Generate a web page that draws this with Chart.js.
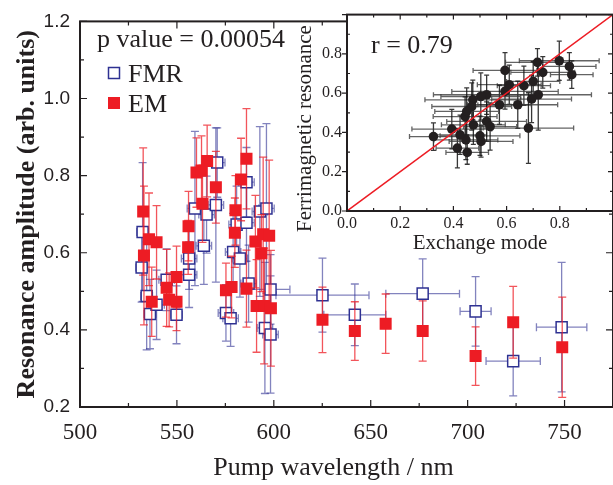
<!DOCTYPE html>
<html lang="en">
<head>
  <meta charset="UTF-8" />
  <title>Resonance amplitude vs pump wavelength</title>
  <script src="https://cdn.jsdelivr.net/npm/chart.js"></script>
  <style>
    body { margin: 0; background: #fff; }
    #wrap { position: relative; width: 613px; height: 485px; overflow: hidden; }
    #mainChart { position: absolute; left: 0; top: 0; }
    #insetChart { position: absolute; left: 280px; top: 0; }
  </style>
</head>
<body>
<div id="wrap">
  <canvas id="mainChart" width="613" height="485"></canvas>
  <canvas id="insetChart" width="333" height="260"></canvas>
</div>

<script>
  // main plot: FMR (open squares) and EM (filled squares)
  const fmrX    = [531.8, 532.3, 534.4, 536.1, 539.5, 544.7, 549.8, 556.3, 556.3, 559.3, 563.9, 565.3, 570.1, 570.8,
                   575.3, 577.7, 579.0, 580.8, 582.5, 585.9, 585.9, 587.0, 592.8, 596.2, 595.4, 598.3, 598.3,
                   625.1, 641.8, 676.8, 704.1, 723.5, 748.5];
  const fmrY    = [0.562, 0.654, 0.488, 0.441, 0.465, 0.530, 0.439, 0.543, 0.585, 0.715, 0.618, 0.699, 0.724, 0.834,
                   0.444, 0.430, 0.602, 0.673, 0.585, 0.783, 0.678, 0.520, 0.707, 0.715, 0.405, 0.388, 0.505,
                   0.490, 0.439, 0.494, 0.448, 0.319, 0.407];
  const fmrXErr = [3, 3, 3, 3, 4, 4, 3, 4, 4, 4, 4, 4, 4, 4,
                   4, 4, 4, 4, 4, 4, 4, 4, 4, 4, 4, 4, 10,
                   24, 16, 19, 8, 14, 13];
  const fmrYErr = [0.09, 0.18, 0.14, 0.09, 0.09, 0.08, 0.075, 0.085, 0.08, 0.2, 0.1, 0.1, 0.2, 0.09,
                   0.073, 0.073, 0.1, 0.1, 0.1, 0.09, 0.1, 0.1, 0.22, 0.22, 0.17, 0.152, 0.09,
                   0.096, 0.08, 0.09, 0.09, 0.09, 0.168];

  const emX    = [532.6, 533.0, 535.6, 537.0, 539.5, 544.7, 546.0, 549.8, 549.8, 555.8, 556.0, 560.1, 562.7, 563.2,
                  565.6, 570.1, 575.3, 578.2, 579.9, 580.2, 583.1, 585.9, 585.9, 590.5, 591.1, 593.6, 594.5, 595.0,
                  597.6, 598.5, 625.1, 641.8, 657.7, 676.8, 704.1, 723.5, 748.8];
  const emY    = [0.707, 0.593, 0.635, 0.473, 0.627, 0.509, 0.478, 0.537, 0.473, 0.614, 0.669, 0.808, 0.813, 0.727,
                  0.838, 0.770, 0.503, 0.511, 0.652, 0.710, 0.790, 0.844, 0.507, 0.629, 0.462, 0.599, 0.648, 0.462,
                  0.644, 0.456, 0.426, 0.397, 0.416, 0.397, 0.332, 0.420, 0.355];
  const emYErr = [0.165, 0.18, 0.12, 0.09, 0.095, 0.1, 0.07, 0.08, 0.075, 0.07, 0.09, 0.09, 0.09, 0.1,
                  0.093, 0.093, 0.07, 0.08, 0.09, 0.09, 0.107, 0.13, 0.1, 0.12, 0.12, 0.1, 0.2, 0.15,
                  0.196, 0.15, 0.085, 0.076, 0.077, 0.078, 0.076, 0.093, 0.13];

  // inset: ferrimagnetic resonance vs exchange mode
  const insetX    = [0.594, 0.716, 0.798, 0.836, 0.845, 0.736, 0.700, 0.665, 0.610, 0.594, 0.719, 0.694, 0.642, 0.573,
                     0.525, 0.503, 0.473, 0.469, 0.444, 0.325, 0.394, 0.415, 0.452, 0.447, 0.425, 0.500, 0.504, 0.475,
                     0.525, 0.538, 0.682, 0.450];
  const insetY    = [0.716, 0.757, 0.765, 0.736, 0.694, 0.706, 0.660, 0.638, 0.643, 0.609, 0.592, 0.570, 0.541, 0.541,
                     0.592, 0.583, 0.566, 0.532, 0.481, 0.379, 0.417, 0.320, 0.298, 0.362, 0.388, 0.383, 0.354, 0.439,
                     0.456, 0.430, 0.422, 0.507];
  const insetXErr = [0.12, 0.12, 0.15, 0.10, 0.08, 0.12, 0.10, 0.10, 0.12, 0.20, 0.20, 0.15, 0.15, 0.12,
                     0.20, 0.15, 0.18, 0.15, 0.12, 0.09, 0.15, 0.08, 0.08, 0.12, 0.10, 0.15, 0.12, 0.12,
                     0.15, 0.10, 0.17, 0.12];
  const insetYErr = [0.09, 0.07, 0.10, 0.07, 0.07, 0.08, 0.10, 0.10, 0.10, 0.09, 0.18, 0.12, 0.12, 0.10,
                     0.10, 0.12, 0.10, 0.12, 0.10, 0.07, 0.10, 0.10, 0.06, 0.10, 0.10, 0.10, 0.08, 0.10,
                     0.10, 0.12, 0.18, 0.12];
  const fitLine = [{x: 0, y: 0}, {x: 1, y: 1}];

  const xTickValues = [500, 550, 600, 650, 700, 750];
  const yTickValues = [0.2, 0.4, 0.6, 0.8, 1.0, 1.2];
  const insetTickValues = [0, 0.2, 0.4, 0.6, 0.8];

  const INK = '#231f20';
  const RED = '#ed1c24';
  const BLUE = '#2e3192';

  const toPoints = (xs, ys) => xs.map((x, i) => ({x: x, y: ys[i]}));

  // vertical / horizontal error bars drawn just before each dataset's markers
  const errorBars = {
    id: 'errorBars',
    beforeDatasetDraw(chart, args) {
      const ds = chart.data.datasets[args.index];
      if (!ds.errY && !ds.errX) return;
      const ctx = chart.ctx;
      const xs = chart.scales[args.meta.xAxisID];
      const ys = chart.scales[args.meta.yAxisID];
      const cap = ds.capSize;
      ctx.save();
      ctx.lineWidth = 1.3;
      args.meta.data.forEach((pt, i) => {
        const v = ds.data[i];
        if (ds.errX) {
          const l = xs.getPixelForValue(v.x - ds.errX[i]);
          const r = xs.getPixelForValue(v.x + ds.errX[i]);
          ctx.strokeStyle = ds.errXColor || ds.errColor;
          ctx.beginPath();
          ctx.moveTo(l, pt.y); ctx.lineTo(r, pt.y);
          ctx.moveTo(l, pt.y - cap); ctx.lineTo(l, pt.y + cap);
          ctx.moveTo(r, pt.y - cap); ctx.lineTo(r, pt.y + cap);
          ctx.stroke();
        }
        if (ds.errY) {
          const t = ys.getPixelForValue(v.y + ds.errY[i]);
          const b = ys.getPixelForValue(v.y - ds.errY[i]);
          ctx.strokeStyle = ds.errColor;
          ctx.beginPath();
          ctx.moveTo(pt.x, t); ctx.lineTo(pt.x, b);
          ctx.moveTo(pt.x - cap, t); ctx.lineTo(pt.x + cap, t);
          ctx.moveTo(pt.x - cap, b); ctx.lineTo(pt.x + cap, b);
          ctx.stroke();
        }
      });
      ctx.restore();
    }
  };

  // box frame with inward ticks on all four sides
  const frame = {
    id: 'frame',
    beforeDraw(chart, args, o) {
      if (!o.fill) return;
      const a = chart.chartArea;
      chart.ctx.save();
      chart.ctx.fillStyle = o.fill;
      chart.ctx.fillRect(a.left, a.top, a.right - a.left, a.bottom - a.top);
      chart.ctx.restore();
    },
    afterDraw(chart, args, o) {
      const {ctx, chartArea: a, scales: {x, y}} = chart;
      ctx.save();
      ctx.strokeStyle = INK;
      ctx.lineWidth = 1.2;
      ctx.beginPath();
      for (let k = 0; ; k++) {
        const v = x.min + k * o.xMinor;
        if (v > x.max + 1e-9) break;
        const major = Math.abs(v / o.xMajor - Math.round(v / o.xMajor)) < 1e-6;
        const len = major ? o.len : o.minorLen;
        const px = x.getPixelForValue(v);
        ctx.moveTo(px, a.bottom); ctx.lineTo(px, a.bottom - len);
        ctx.moveTo(px, a.top); ctx.lineTo(px, a.top + len);
      }
      for (let k = 0; ; k++) {
        const v = y.min + k * o.yMinor;
        if (v > y.max + 1e-9) break;
        const major = Math.abs(v / o.yMajor - Math.round(v / o.yMajor)) < 1e-6;
        const len = major ? o.len : o.minorLen;
        const py = y.getPixelForValue(v);
        if (major && o.leftOut) {
          ctx.moveTo(a.left, py); ctx.lineTo(a.left - len, py);
        } else {
          ctx.moveTo(a.left, py); ctx.lineTo(a.left + len, py);
        }
        ctx.moveTo(a.right, py); ctx.lineTo(a.right - len, py);
      }
      ctx.stroke();
      ctx.lineWidth = 2;
      ctx.strokeRect(a.left, a.top, a.right - a.left, a.bottom - a.top);
      ctx.restore();
    }
  };

  // in-plot text: p value and legend
  const mainNotes = {
    id: 'mainNotes',
    afterDraw(chart) {
      const ctx = chart.ctx;
      ctx.save();
      ctx.fillStyle = INK;
      ctx.font = '26px "Liberation Serif"';
      ctx.textBaseline = 'alphabetic';
      ctx.fillText('p value = 0.00054', 97, 47);
      ctx.fillText('FMR', 128, 82);
      ctx.fillText('EM', 128, 112);
      ctx.strokeStyle = BLUE;
      ctx.lineWidth = 1.5;
      ctx.strokeRect(108.5, 67.5, 11, 11);
      ctx.fillStyle = RED;
      ctx.fillRect(108, 97, 12, 12);
      ctx.restore();
    }
  };

  const insetNotes = {
    id: 'insetNotes',
    afterDraw(chart) {
      const ctx = chart.ctx;
      ctx.save();
      ctx.fillStyle = INK;
      ctx.font = '26px "Liberation Serif"';
      ctx.fillText('r = 0.79', 91, 53);
      ctx.restore();
    }
  };

  new Chart(document.getElementById('mainChart'), {
    type: 'scatter',
    data: {
      datasets: [
        {
          label: 'EM',
          data: toPoints(emX, emY),
          errY: emYErr,
          errColor: 'rgba(237,28,36,0.75)',
          capSize: 4,
          pointStyle: 'rect',
          pointRadius: 8.5,
          backgroundColor: RED,
          borderColor: RED,
          borderWidth: 0
        },
        {
          label: 'FMR',
          data: toPoints(fmrX, fmrY),
          errX: fmrXErr,
          errY: fmrYErr,
          errColor: 'rgba(46,49,146,0.6)',
          capSize: 4,
          pointStyle: 'rect',
          pointRadius: 7.8,
          backgroundColor: '#fff',
          borderColor: BLUE,
          borderWidth: 1.5
        }
      ]
    },
    options: {
      responsive: false,
      animation: false,
      layout: { autoPadding: false, padding: { top: 14, right: 0, left: 0, bottom: 0 } },
      plugins: {
        legend: { display: false },
        tooltip: { enabled: false },
        frame: { xMajor: 50, xMinor: 25, yMajor: 0.2, yMinor: 0.1, len: 7, minorLen: 4 }
      },
      scales: {
        x: {
          type: 'linear',
          min: 500,
          max: 775,
          grid: { display: false, drawTicks: false },
          border: { display: false },
          afterFit(s) { s.height = 78; },
          afterBuildTicks(s) { s.ticks = xTickValues.map(v => ({value: v})); },
          ticks: {
            autoSkip: false,
            maxRotation: 0,
            padding: 12,
            color: INK,
            font: { family: 'Liberation Serif', size: 23 }
          },
          title: {
            display: true,
            text: 'Pump wavelength / nm    ',
            color: INK,
            font: { family: 'Liberation Serif', size: 26 },
            padding: { top: 0, bottom: 1 }
          }
        },
        y: {
          min: 0.2,
          max: 1.2,
          grid: { display: false, drawTicks: false },
          border: { display: false },
          afterFit(s) { s.width = 80; },
          afterBuildTicks(s) { s.ticks = yTickValues.map(v => ({value: v})); },
          ticks: {
            padding: 10,
            color: INK,
            font: { family: 'Liberation Sans', size: 19 },
            callback: v => v.toFixed(1)
          },
          title: {
            display: true,
            text: 'Resonance amplitude (arb. units)',
            color: INK,
            font: { family: 'Liberation Serif', size: 26, weight: 'bold' },
            padding: { top: 12, bottom: 0 }
          }
        }
      }
    },
    plugins: [errorBars, frame, mainNotes]
  });

  new Chart(document.getElementById('insetChart'), {
    type: 'scatter',
    data: {
      datasets: [
        {
          type: 'line',
          data: fitLine,
          borderColor: RED,
          borderWidth: 1.5,
          pointRadius: 0,
          showLine: true
        },
        {
          data: toPoints(insetX, insetY),
          errX: insetXErr,
          errY: insetYErr,
          errColor: 'rgba(20,20,20,0.85)',
          errXColor: 'rgba(60,60,60,0.8)',
          capSize: 2.5,
          pointStyle: 'circle',
          pointRadius: 4.8,
          backgroundColor: INK,
          borderColor: INK,
          borderWidth: 0
        }
      ]
    },
    options: {
      responsive: false,
      animation: false,
      layout: { autoPadding: false, padding: { top: 14, right: 0, left: 0, bottom: 0 } },
      plugins: {
        legend: { display: false },
        tooltip: { enabled: false },
        frame: { fill: '#fff', xMajor: 0.2, xMinor: 0.1, yMajor: 0.2, yMinor: 0.1, len: 5, minorLen: 3, leftOut: true }
      },
      scales: {
        x: {
          type: 'linear',
          min: 0,
          max: 1,
          grid: { display: false, drawTicks: false },
          border: { display: false },
          afterFit(s) { s.height = 49; },
          afterBuildTicks(s) { s.ticks = insetTickValues.map(v => ({value: v})); },
          ticks: {
            autoSkip: false,
            maxRotation: 0,
            padding: 3,
            color: INK,
            font: { family: 'Liberation Serif', size: 16 },
            callback: v => v.toFixed(1)
          },
          title: {
            display: true,
            text: 'Exchange mode',
            color: INK,
            font: { family: 'Liberation Serif', size: 21 },
            padding: { top: 0, bottom: 4 }
          }
        },
        y: {
          min: 0,
          max: 1,
          grid: { display: false, drawTicks: false },
          border: { display: false },
          afterFit(s) { s.width = 67; },
          afterBuildTicks(s) { s.ticks = insetTickValues.map(v => ({value: v})); },
          ticks: {
            padding: 5,
            color: INK,
            font: { family: 'Liberation Serif', size: 16 },
            callback: v => v.toFixed(1)
          },
          title: {
            display: true,
            text: 'Ferrimagnetic resonance      ',
            color: INK,
            font: { family: 'Liberation Serif', size: 21 },
            padding: { top: 13, bottom: 0 }
          }
        }
      }
    },
    plugins: [errorBars, frame, insetNotes]
  });
</script>
</body>
</html>
